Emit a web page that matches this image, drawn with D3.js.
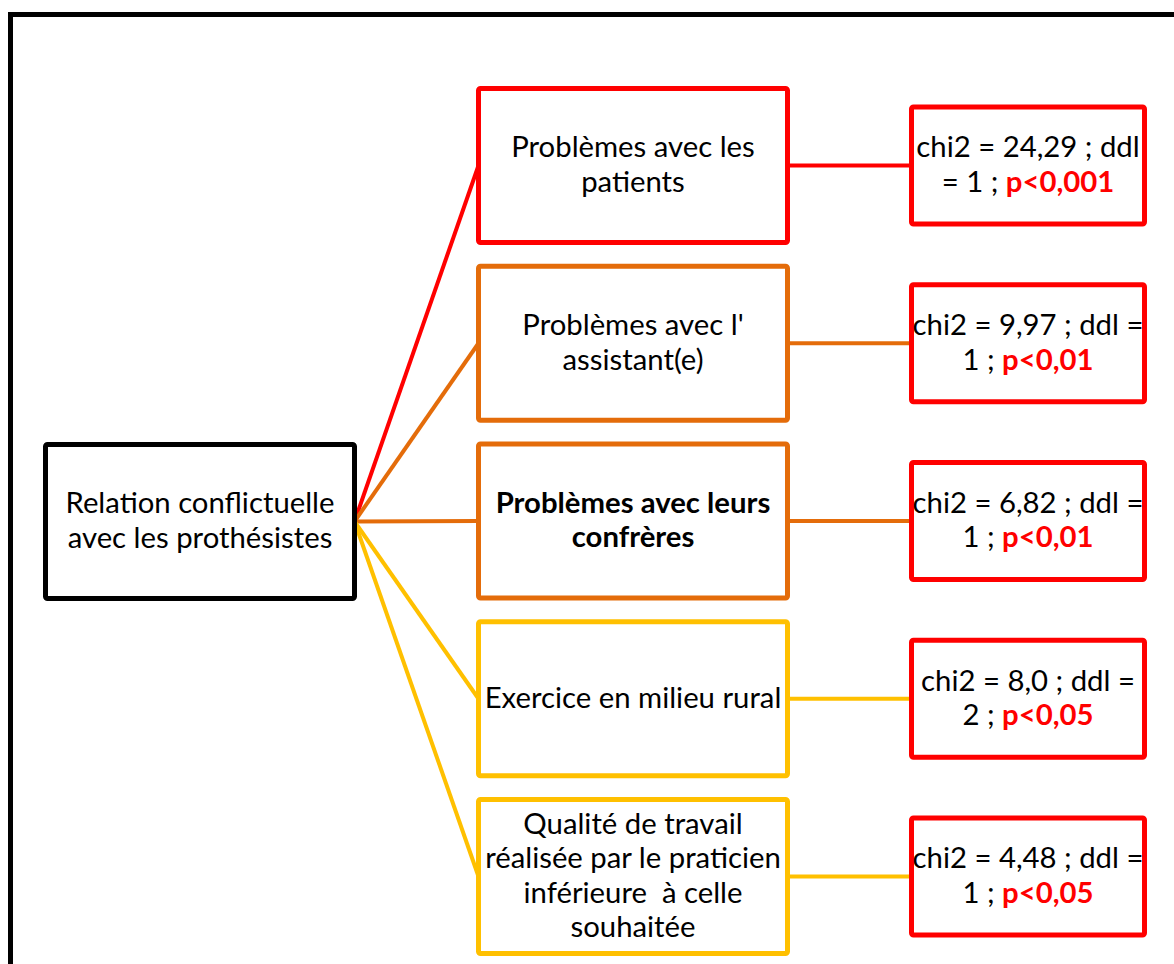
<!DOCTYPE html>
<html>
<head>
<meta charset="utf-8">
<script src="https://cdn.jsdelivr.net/npm/d3@7"></script>
<style>
  body { margin: 0; background: #fff; }
  text { font-family: Lato, "Noto Sans", sans-serif; white-space: pre; }
</style>
</head>
<body>
<script>
// data
var rootLabel = ["Relation conflictuelle", "avec les prothésistes"];

var factors = [
    ["Problèmes avec les", "patients"],
    ["Problèmes avec l'", "assistant(e)"],
    ["Problèmes avec leurs", "confrères"],
    ["Exercice en milieu rural"],
    ["Qualité de travail", "réalisée par le praticien", "inférieure  à celle", "souhaitée"]
];
var factorBold = [false, false, true, false, false];
var factorLevel = ["red", "orange", "orange", "yellow", "yellow"];

var statLine1 = ["chi2 = 24,29 ; ddl", "chi2 = 9,97 ; ddl =", "chi2 = 6,82 ; ddl =", "chi2 = 8,0 ; ddl =", "chi2 = 4,48 ; ddl ="];
var statLine2 = ["= 1 ; ", "1 ; ", "1 ; ", "2 ; ", "1 ; "];
var pValues = ["p<0,001", "p<0,01", "p<0,01", "p<0,05", "p<0,05"];

var levelColor = {red: "#FF0000", orange: "#E46C0A", yellow: "#FFC000"};

var width = 1174, height = 964;
var fontSize = 29.3, lineH = 34.5, baseOff = 9;

var svg = d3.select("body").append("svg")
    .attr("width", width)
    .attr("height", height);

// outer frame (runs off the right and bottom)
svg.append("rect")
    .attr("x", 10.5).attr("y", 14.5)
    .attr("width", 1200).attr("height", 1000)
    .attr("fill", "none")
    .attr("stroke", "#000")
    .attr("stroke-width", 5);

var y = d3.scalePoint()
    .domain(d3.range(factors.length))
    .range([165.5, 876.5]);

var root = {x: 45.5, w: 309, h: 154, cy: 521.5};
var mid = {x: 478.5, w: 309, h: 154};
var stat = {x: 911.5, w: 233, h: 117};

function addLines(g, lines, cx, cy, bold) {
    var n = lines.length;
    lines.forEach(function (l, i) {
        g.append("text")
            .attr("x", cx)
            .attr("y", cy + (i - (n - 1) / 2) * lineH + baseOff)
            .attr("text-anchor", "middle")
            .attr("font-size", fontSize)
            .attr("font-weight", bold ? "bold" : "normal")
            .attr("fill", "#000")
            .text(l);
    });
}

// connectors
svg.selectAll("line.branch")
    .data(factors)
    .enter().append("line")
    .attr("class", "branch")
    .attr("x1", root.x + root.w)
    .attr("y1", root.cy)
    .attr("x2", mid.x)
    .attr("y2", function (d, i) { return y(i); })
    .attr("stroke", function (d, i) { return levelColor[factorLevel[i]]; })
    .attr("stroke-width", 4);

svg.selectAll("line.link")
    .data(factors)
    .enter().append("line")
    .attr("class", "link")
    .attr("x1", mid.x + mid.w)
    .attr("x2", stat.x)
    .attr("y1", function (d, i) { return y(i); })
    .attr("y2", function (d, i) { return y(i); })
    .attr("stroke", function (d, i) { return levelColor[factorLevel[i]]; })
    .attr("stroke-width", 4);

// root box
var rg = svg.append("g");
rg.append("rect")
    .attr("x", root.x).attr("y", root.cy - root.h / 2)
    .attr("width", root.w).attr("height", root.h)
    .attr("rx", 2)
    .attr("fill", "#fff").attr("stroke", "#000").attr("stroke-width", 5);
addLines(rg, rootLabel, root.x + root.w / 2, root.cy, false);

// factor boxes
factors.forEach(function (lines, i) {
    var g = svg.append("g");
    g.append("rect")
        .attr("x", mid.x).attr("y", y(i) - mid.h / 2)
        .attr("width", mid.w).attr("height", mid.h)
        .attr("rx", 2)
        .attr("fill", "#fff")
        .attr("stroke", levelColor[factorLevel[i]])
        .attr("stroke-width", 5);
    addLines(g, lines, mid.x + mid.w / 2, y(i), factorBold[i]);

    var s = svg.append("g");
    s.append("rect")
        .attr("x", stat.x).attr("y", y(i) - stat.h / 2)
        .attr("width", stat.w).attr("height", stat.h)
        .attr("rx", 2)
        .attr("fill", "#fff")
        .attr("stroke", "#FF0000")
        .attr("stroke-width", 5);
    var cx = stat.x + stat.w / 2;
    s.append("text")
        .attr("x", cx).attr("y", y(i) - lineH / 2 + baseOff)
        .attr("text-anchor", "middle")
        .attr("font-size", fontSize)
        .text(statLine1[i]);
    var t2 = s.append("text")
        .attr("x", cx).attr("y", y(i) + lineH / 2 + baseOff)
        .attr("text-anchor", "middle")
        .attr("font-size", fontSize);
    t2.append("tspan").text(statLine2[i]);
    t2.append("tspan")
        .attr("font-weight", "bold")
        .attr("fill", "#FF0000")
        .text(pValues[i]);
});
</script>
</body>
</html>
